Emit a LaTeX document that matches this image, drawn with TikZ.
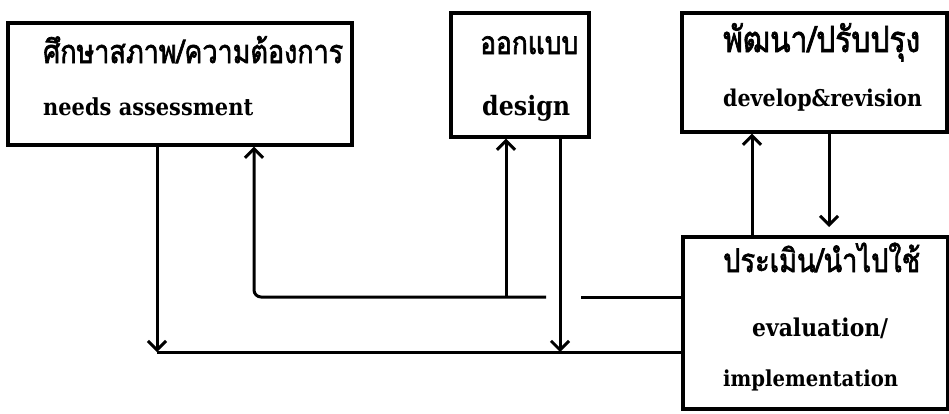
\documentclass[tikz,border=0pt]{standalone}
\usepackage{fontspec}
\usepackage{graphicx}
\usetikzlibrary{arrows.meta}
\newfontfamily\thaifont[Script=Thai, AutoFakeBold=2.2]{Loma}
\newfontfamily\latinfont{DejaVu Serif}
% text of a given width, slightly stretched upwards
\newcommand{\thw}[2]{\scalebox{1}[1.2]{\resizebox{#1}{!}{\thaifont\bfseries #2}}}
\newcommand{\enw}[2]{\scalebox{1}[1.12]{\resizebox{#1}{!}{\latinfont\bfseries #2}}}
\tikzset{
  stagebox/.style={draw=black, line width=3.4pt, fill=none, inner sep=0pt},
  label/.style={inner sep=0pt, anchor=base west},
  flow/.style={draw=black, line width=3pt},
  flowarr/.style={flow, -{Straight Barb[length=9pt,width=18pt,line width=3pt]}},
}
\begin{document}
\begin{tikzpicture}[x=1pt,y=-1pt]
  \useasboundingbox (0,0) rectangle (949,413);

  % the four stages
  \node[stagebox, minimum width=344pt, minimum height=122pt] (needs) at (180,84) {};
  \node[stagebox, minimum width=138pt, minimum height=124pt] (design) at (520,75) {};
  \node[stagebox, minimum width=265pt, minimum height=119pt] (dev) at (814.5,72.5) {};
  \node[stagebox, minimum width=265pt, minimum height=172pt] (eval) at (815.5,323) {};

  % labels
  \node[label] (needsTh) at (43,63) {\thw{300pt}{ศึกษาสภาพ/ความต้องการ}};
  \node[label] (needsEn) at (43,115) {\enw{210pt}{needs assessment}};
  \node[label] (designTh) at (480,54) {\thw{98pt}{ออกแบบ}};
  \node[label] (designEn) at (482,115) {\enw{88pt}{design}};
  \node[label] (devTh) at (723,52) {\thw{197pt}{พัฒนา/ปรับปรุง}};
  \node[label] (devEn) at (723,106) {\enw{199pt}{develop\&revision}};
  \node[label] (evalTh) at (723,272) {\thw{197pt}{ประเมิน/นำไปใช้}};
  \node[label] (evalEn1) at (752,336) {\enw{136pt}{evaluation/}};
  \node[label] (evalEn2) at (723,386) {\enw{175pt}{implementation}};

  % junction points of the two return lines
  \coordinate (upR) at (683,297);
  \coordinate (gapR) at (581,297);
  \coordinate (gapL) at (546,297);
  \coordinate (upL) at (254,297);
  \coordinate (upD) at (506,297);
  \coordinate (loR) at (683,352);
  \coordinate (loL) at (157,352);
  \coordinate (loD) at (560,352);
  \coordinate (devUp) at (752,0);
  \coordinate (devDown) at (829,227);

  % upper line: evaluation back to needs and design
  \draw[flow] (upR) -- (gapR);
  \draw[flowarr, rounded corners=7pt] (gapL) -- (upL) -- (upL |- needs.south);
  \draw[flowarr] (upD) -- (upD |- design.south);

  % lower line: needs and design forward to evaluation
  \draw[flow] (loR) -- (loL);
  \draw[flowarr] (loL |- needs.south) -- (loL);
  \draw[flowarr] (loD |- design.south) -- (loD);

  % develop <-> evaluation
  \draw[flowarr] (devUp |- eval.north) -- (devUp |- dev.south);
  \draw[flowarr] (devDown |- dev.south) -- (devDown);
\end{tikzpicture}
\end{document}
